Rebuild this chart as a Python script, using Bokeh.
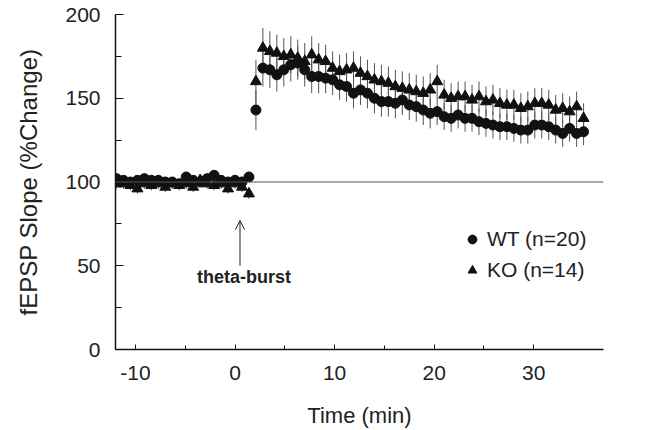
from bokeh.plotting import figure
from bokeh.models import (Range1d, FixedTicker, Span, Arrow, OpenHead, Label,
                          Legend, LegendItem, ColumnDataSource,
                          PrintfTickFormatter)
from bokeh.embed import file_html
from bokeh.resources import INLINE

# ---- data (time in min, fEPSP slope in % of baseline) ----
time = [-11.9, -11.2, -10.5, -9.8, -9.1, -8.4, -7.7, -7.0, -6.3, -5.6,
        -4.9, -4.2, -3.5, -2.8, -2.1, -1.4, -0.7, 0.0, 0.7, 1.4,
        2.1, 2.8, 3.5, 4.2, 4.9, 5.6, 6.3, 7.0, 7.7, 8.4,
        9.1, 9.8, 10.5, 11.2, 11.9, 12.6, 13.3, 14.0, 14.7, 15.4,
        16.1, 16.8, 17.5, 18.2, 18.9, 19.6, 20.3, 21.0, 21.7, 22.4,
        23.1, 23.8, 24.5, 25.2, 25.9, 26.6, 27.3, 28.0, 28.7, 29.4,
        30.1, 30.8, 31.5, 32.2, 32.9, 33.6, 34.3, 35.0]

wt = [102, 101, 100, 101, 102, 101, 101, 100, 100, 99,
      103, 101, 100, 102, 104, 101, 100, 101, 100, 103,
      143, 168, 167, 164, 167, 170, 171, 167, 163, 163,
      162, 161, 158, 157, 153, 155, 153, 150, 148, 148,
      147, 149, 146, 145, 143, 141, 142, 139, 138, 140,
      138, 138, 136, 135, 134, 133, 133, 132, 131, 131,
      134, 134, 133, 131, 129, 132, 129, 130]

wt_err = [3, 3, 3, 3, 3, 3, 3, 3, 3, 3,
          3, 3, 3, 3, 3, 3, 3, 3, 3, 3,
          12, 11, 11, 10, 10, 10, 10, 10, 10, 10,
          9, 9, 9, 9, 9, 9, 9, 9, 9, 9,
          9, 9, 9, 9, 9, 9, 8, 8, 8, 8,
          8, 8, 8, 8, 8, 8, 8, 8, 8, 8,
          8, 8, 8, 8, 8, 8, 8, 8]

ko = [99, 99, 98, 96, 99, 98, 99, 97, 99, 98,
      99, 97, 101, 99, 98, 99, 96, 99, 97, 93,
      160, 180, 178, 177, 175, 176, 174, 172, 176, 173,
      172, 168, 166, 167, 168, 165, 163, 161, 160, 159,
      157, 156, 155, 154, 153, 155, 160, 152, 150, 151,
      151, 149, 151, 148, 149, 147, 146, 146, 144, 145,
      147, 147, 146, 143, 144, 142, 145, 138]

ko_err = [3, 3, 3, 3, 3, 3, 3, 3, 3, 3,
          3, 3, 3, 3, 3, 3, 3, 3, 3, 3,
          13, 12, 12, 11, 11, 11, 11, 11, 11, 10,
          10, 10, 10, 10, 10, 10, 10, 10, 10, 10,
          10, 10, 10, 10, 10, 10, 10, 9, 9, 9,
          9, 9, 9, 9, 9, 9, 9, 9, 9, 9,
          9, 9, 9, 9, 9, 9, 9, 9]

legend_labels = ["WT (n=20)", "KO (n=14)"]
y_ticks = [0, 50, 100, 150, 200]
y_minor = [25, 75, 125, 175]
x_ticks = [-10, 0, 10, 20, 30]
x_minor = [-5, 5, 15, 25]

FONT = "Liberation Sans"

src = ColumnDataSource(dict(
    t=time, wt=wt, ko=ko,
    wt_lo=[v - e for v, e in zip(wt, wt_err)],
    wt_hi=[v + e for v, e in zip(wt, wt_err)],
    ko_lo=[v - e for v, e in zip(ko, ko_err)],
    ko_hi=[v + e for v, e in zip(ko, ko_err)],
))

p = figure(width=652, height=430, output_backend="svg", toolbar_location=None,
           x_range=Range1d(-12, 37), y_range=Range1d(0, 200),
           min_border_left=115, min_border_right=49,
           min_border_top=14, min_border_bottom=81)
p.outline_line_color = None
p.xgrid.visible = False
p.ygrid.visible = False
p.background_fill_color = "white"

# baseline reference line at 100 %
p.add_layout(Span(location=100, dimension="width", line_color="#555555",
                  line_width=1))

# error bars
p.segment(x0="t", y0="wt_lo", x1="t", y1="wt_hi", source=src,
          line_color="#555555", line_width=1)
p.segment(x0="t", y0="ko_lo", x1="t", y1="ko_hi", source=src,
          line_color="#555555", line_width=1)

r_wt = p.scatter(x="t", y="wt", source=src, marker="circle", size=10,
                 fill_color="#111111", line_color="#111111")
r_ko = p.scatter(x="t", y="ko", source=src, marker="triangle", size=11,
                 fill_color="#111111", line_color="#111111")

# theta-burst arrow and label
p.add_layout(Arrow(end=OpenHead(size=9, line_color="#222222", line_width=1),
                   x_start=0.5, y_start=50, x_end=0.5, y_end=77,
                   line_color="#222222", line_width=1))
p.add_layout(Label(x=0.9, y=43, text="theta-burst", text_align="center",
                   text_baseline="middle", text_font=FONT,
                   text_font_size="18px", text_font_style="bold",
                   text_color="#222222"))

# legend
legend = Legend(items=[LegendItem(label=legend_labels[0], renderers=[r_wt]),
                       LegendItem(label=legend_labels[1], renderers=[r_ko])],
                location=(346, 67), padding=0, margin=0, spacing=7,
                glyph_width=22, glyph_height=22, label_height=22,
                label_standoff=4, label_text_font=FONT,
                label_text_font_size="21px", label_text_color="#222222",
                background_fill_alpha=0, border_line_alpha=0)
p.add_layout(legend)

# axes
for ax in (p.xaxis, p.yaxis):
    ax.axis_line_color = "#111111"
    ax.axis_line_width = 1.5
    ax.major_tick_line_color = "#111111"
    ax.minor_tick_line_color = "#111111"
    ax.major_tick_out = 0
    ax.minor_tick_out = 0
    ax.major_label_text_font = FONT
    ax.major_label_text_font_size = "21px"
    ax.major_label_text_color = "#222222"
    ax.axis_label_text_font = FONT
    ax.axis_label_text_font_style = "normal"
    ax.axis_label_text_color = "#222222"
    ax.formatter = PrintfTickFormatter(format="%d")

p.yaxis.ticker = FixedTicker(ticks=y_ticks, minor_ticks=y_minor)
p.yaxis.major_tick_in = 8
p.yaxis.minor_tick_in = 6
p.yaxis.major_label_standoff = 15
p.yaxis.axis_label = "fEPSP Slope (%Change)"
p.yaxis.axis_label_text_font_size = "24px"
p.yaxis.axis_label_standoff = 20

p.xaxis.ticker = FixedTicker(ticks=x_ticks, minor_ticks=x_minor)
p.xaxis.major_tick_in = 5
p.xaxis.minor_tick_in = 4
p.xaxis.major_label_standoff = 16
p.xaxis.axis_label = "Time (min)"
p.xaxis.axis_label_text_font_size = "22px"
p.xaxis.axis_label_standoff = 20

open("out.html", "w").write(file_html(p, INLINE))
